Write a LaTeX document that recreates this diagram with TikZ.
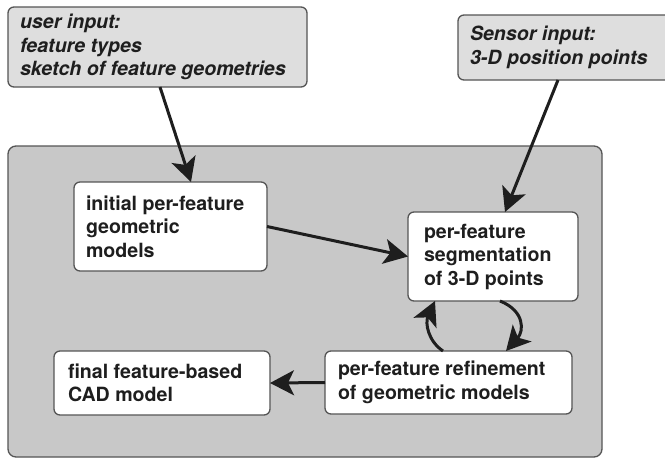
\documentclass[tikz,border=0pt]{standalone}
\usepackage{fontspec}
\setmainfont{TeX Gyre Heros}
\usetikzlibrary{arrows.meta,calc}
\definecolor{framegray}{RGB}{200,200,200}
\definecolor{inputgray}{RGB}{222,222,222}
\definecolor{edgegray}{RGB}{85,85,85}
\definecolor{inkblack}{RGB}{30,30,30}
\tikzset{
ARR/.style ={draw=inkblack,line width=3pt,-{Stealth[length=24pt,width=25pt,inset=6pt]}},
BOX/.style ={draw=edgegray,line width=1.3pt,rounded corners=6pt,anchor=north west,inner xsep=12pt,inner ysep=0pt,outer sep=0pt,align=flush left,text=inkblack,font=\bfseries\fontsize{19.6}{23.5}\selectfont},
INBOX/.style={BOX,fill=white},
INPUT/.style={BOX,fill=inputgray,font=\bfseries\itshape\fontsize{19.6}{23.5}\selectfont},
REGION/.style={draw=edgegray,line width=1.3pt,rounded corners=8pt,fill=#1},
REGION/.default = framegray,
}
\begin{document}
\begin{tikzpicture}[x=1pt,y=-1pt]
	\clip (0,0) rectangle (665,459);
	\fill[white] (0,0) rectangle (665,459);
	\path[REGION] (8,146) rectangle (602,457); % processing frame
	% inputs
	\node[INPUT,minimum width=299pt,minimum height=80pt,text width=275pt] (user) at (8,7) {user input:\\feature types\\sketch of feature geometries};
	\node[INPUT,minimum width=260pt,minimum height=65pt,text width=236pt] (sensor) at (458,15) {Sensor input:\\3-D position points};
	% steps
	\node[INBOX,minimum width=193pt,minimum height=89pt,text width=169pt] (initial) at (74,182) {initial per-feature\\geometric\\models};
	\node[INBOX,minimum width=162pt,minimum height=89pt,text width=138pt,inner xsep=16pt] (seg) at (408,212) {per-feature\\segmentation\\of 3-D points};
	\node[INBOX,minimum width=245pt,minimum height=63pt,text width=221pt,inner xsep=13pt] (refine) at (325,351) {per-feature refinement\\of geometric models};
	\node[INBOX,minimum width=212pt,minimum height=64pt,text width=188pt,inner xsep=14pt] (final) at (54,351) {final feature-based\\CAD model};
	% arrows
	\draw[ARR] ($(user.south west)+(152,0)$) -- ($(initial.north west)+(117,0)$);
	\draw[ARR] ($(sensor.south west)+(100,0)$) -- ($(seg.north west)+(97,0)$);
	\draw[ARR] (initial.east) -- (seg.west);
	\draw[ARR] ($(seg.south west)+(92,0)$) .. controls +(25,10) and +(18,-20) .. ($(refine.north west)+(181,0)$);
	\draw[ARR] ($(refine.north west)+(118,0)$) .. controls +(-15,-10) and +(-10,22) .. ($(seg.south west)+(27,0)$);
	\draw[ARR] (refine.west) -- (final.east);
\end{tikzpicture}
\end{document}
